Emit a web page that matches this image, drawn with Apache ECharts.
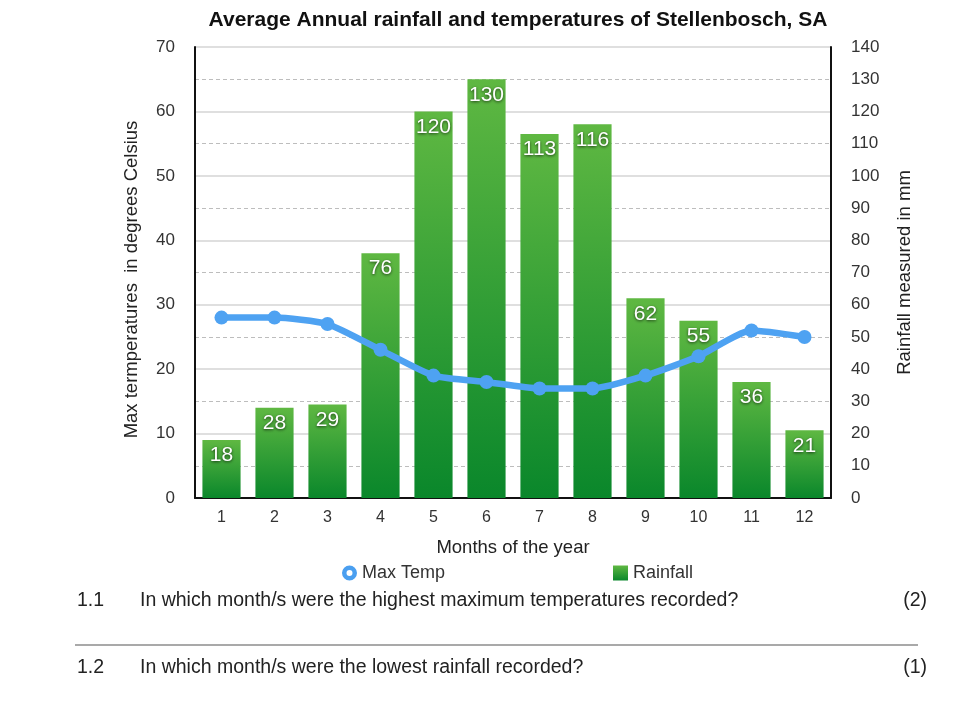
<!DOCTYPE html>
<html><head><meta charset="utf-8">
<script src="https://cdn.jsdelivr.net/npm/echarts@6/dist/echarts.min.js"></script>
<style>html,body{margin:0;padding:0;background:#fff}#c{width:977px;height:702px}</style>
</head><body><div id="c"></div>
<script>
const months = ['1','2','3','4','5','6','7','8','9','10','11','12'];
const rainfall = [18,28,29,76,120,130,113,116,62,55,36,21];
const maxTemp = [28,28,27,23,19,18,17,17,19,22,26,25];
const tempTicks = [0,10,20,30,40,50,60,70];
const rainTicks = [0,10,20,30,40,50,60,70,80,90,100,110,120,130,140];

const chart = echarts.init(document.getElementById('c'));
const font = 'Liberation Sans, Arial, sans-serif';
const ring = 'path://M50,0A50,50,0,1,1,49.99,0Z M50,30A20,20,0,1,0,50.01,30Z';
chart.setOption({
  animation:false,
  textStyle:{fontFamily:font},
  title:{text:'Average Annual rainfall and temperatures of Stellenbosch, SA',left:513,textAlign:'center',top:5,
    textStyle:{fontSize:21,fontWeight:'bold',color:'#111',fontFamily:font}},
  grid:{left:195,right:146,top:47,bottom:204},
  legend:{top:559,left:337,itemGap:168,itemWidth:15,itemHeight:15,
    textStyle:{fontSize:18,color:'#333',fontFamily:font},
    data:[{name:'Max Temp',icon:ring,itemStyle:{color:'#4a9ff0'}},{name:'Rainfall',icon:'rect'}]},
  xAxis:{type:'category',data:months,
    axisLine:{lineStyle:{color:'#111',width:2}},axisTick:{show:false},
    axisLabel:{fontSize:16,color:'#333',margin:12},
    name:'Months of the year',nameLocation:'middle',nameGap:40,
    nameTextStyle:{fontSize:18.5,color:'#222'}},
  yAxis:[
    {type:'value',min:0,max:70,interval:10,
     axisLine:{show:true,lineStyle:{color:'#111',width:2}},axisTick:{show:false},
     axisLabel:{fontSize:17,color:'#333',margin:20,formatter:v=>tempTicks.includes(v)?String(v):''},
     splitLine:{lineStyle:{color:'#d4d4d4',width:1.5}},
     minorTick:{show:false,splitNumber:2},
     minorSplitLine:{show:true,lineStyle:{color:'#bdbdbd',type:[4,3],width:1.2}},
     name:'Max termperatures  in degrees Celsius',nameLocation:'middle',nameGap:54,nameRotate:90,
     nameTextStyle:{fontSize:18.5,color:'#222',padding:[0,14,0,0]}},
    {type:'value',min:0,max:140,interval:10,position:'right',
     axisLine:{show:true,lineStyle:{color:'#111',width:2}},axisTick:{show:false},
     axisLabel:{fontSize:17,color:'#333',margin:20,formatter:v=>rainTicks.includes(v)?String(v):''},
     splitLine:{show:false},
     name:'Rainfall measured in mm',nameLocation:'middle',nameGap:64,nameRotate:90,
     nameTextStyle:{fontSize:18.5,color:'#222'}}
  ],
  series:[
    {name:'Rainfall',type:'bar',yAxisIndex:1,data:rainfall,barWidth:'72%',
     itemStyle:{color:new echarts.graphic.LinearGradient(0,0,0,1,[{offset:0,color:'#5fb842'},{offset:1,color:'#0a872b'}])},
     label:{show:true,position:'insideTop',distance:5,color:'#fff',fontSize:21,fontFamily:font,
       textShadowColor:'rgba(0,0,0,0.7)',textShadowBlur:3,textShadowOffsetY:1}},
    {name:'Max Temp',type:'line',yAxisIndex:0,data:maxTemp,smooth:0.2,
     lineStyle:{color:'#4ea2f2',width:6.5},itemStyle:{color:'#4ea2f2'},
     symbol:'circle',symbolSize:14}
  ],
  graphic:[
    {type:'text',left:77,top:591,style:{text:'1.1',fontSize:19.5,fill:'#222',fontFamily:font}},
    {type:'text',left:140,top:591,style:{text:'In which month/s were the highest maximum temperatures recorded?',fontSize:19.5,fill:'#222',fontFamily:font}},
    {type:'text',right:50,top:591,style:{text:'(2)',fontSize:19.5,fill:'#222',fontFamily:font}},
    {type:'line',shape:{x1:75,y1:645,x2:918,y2:645},style:{stroke:'#555',lineWidth:1.2}},
    {type:'text',left:77,top:658,style:{text:'1.2',fontSize:19.5,fill:'#222',fontFamily:font}},
    {type:'text',left:140,top:658,style:{text:'In which month/s were the lowest rainfall recorded?',fontSize:19.5,fill:'#222',fontFamily:font}},
    {type:'text',right:50,top:658,style:{text:'(1)',fontSize:19.5,fill:'#222',fontFamily:font}}
  ]
});
</script></body></html>
